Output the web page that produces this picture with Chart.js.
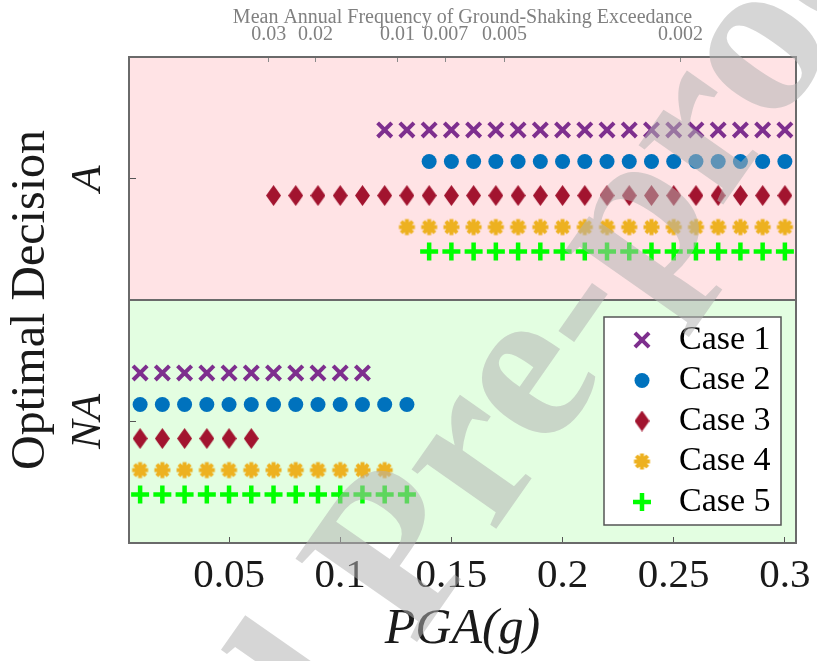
<!DOCTYPE html>
<html>
<head>
<meta charset="utf-8">
<script src="https://cdn.jsdelivr.net/npm/chart.js@4.4.1/dist/chart.umd.min.js"></script>
<style>
  html, body { margin: 0; padding: 0; background: #fff; }
</style>
</head>
<body>
<canvas id="decisionChart" width="817" height="661"></canvas>
<script>
// PGA levels (g) where the optimal decision was evaluated
const pga = [0.01, 0.02, 0.03, 0.04, 0.05, 0.06, 0.07, 0.08, 0.09, 0.10,
             0.11, 0.12, 0.13, 0.14, 0.15, 0.16, 0.17, 0.18, 0.19, 0.20,
             0.21, 0.22, 0.23, 0.24, 0.25, 0.26, 0.27, 0.28, 0.29, 0.30];

// Optimal decision for each case at each PGA level (0 = NA, 1 = A)
const case1 = [0,0,0,0,0,0,0,0,0,0, 0,1,1,1,1,1,1,1,1,1, 1,1,1,1,1,1,1,1,1,1];
const case2 = [0,0,0,0,0,0,0,0,0,0, 0,0,0,1,1,1,1,1,1,1, 1,1,1,1,1,1,1,1,1,1];
const case3 = [0,0,0,0,0,0,1,1,1,1, 1,1,1,1,1,1,1,1,1,1, 1,1,1,1,1,1,1,1,1,1];
const case4 = [0,0,0,0,0,0,0,0,0,0, 0,0,1,1,1,1,1,1,1,1, 1,1,1,1,1,1,1,1,1,1];
const case5 = [0,0,0,0,0,0,0,0,0,0, 0,0,0,1,1,1,1,1,1,1, 1,1,1,1,1,1,1,1,1,1];

const caseNames = ["Case 1", "Case 2", "Case 3", "Case 4", "Case 5"];
const decisionLabels = ["NA", "A"];

// bottom axis ticks
const pgaTicks = [0.05, 0.1, 0.15, 0.2, 0.25, 0.3];
const pgaTickLabels = ["0.05", "0.1", "0.15", "0.2", "0.25", "0.3"];

// top axis: mean annual frequency of exceedance, at the matching PGA
const mafTickPGA = [0.0679, 0.0889, 0.1258, 0.1475, 0.1739, 0.2531];
const mafTickLabels = ["0.03", "0.02", "0.01", "0.007", "0.005", "0.002"];

// marker images for the shapes Chart.js lacks
function diamondMarker(color) {
    const c = document.createElement("canvas");
    c.width = 15; c.height = 21;
    const g = c.getContext("2d");
    g.fillStyle = color;
    g.beginPath();
    g.moveTo(7.5, 0); g.lineTo(15, 10.5); g.lineTo(7.5, 21); g.lineTo(0, 10.5);
    g.closePath();
    g.fill();
    return c;
}

function asteriskMarker(color) {
    const c = document.createElement("canvas");
    c.width = 19; c.height = 19;
    const g = c.getContext("2d");
    g.strokeStyle = color; g.fillStyle = color;
    g.lineWidth = 4;
    for (let k = 0; k < 4; k++) {
        const a = k * Math.PI / 4;
        g.beginPath();
        g.moveTo(9.5 - 8 * Math.cos(a), 9.5 - 8 * Math.sin(a));
        g.lineTo(9.5 + 8 * Math.cos(a), 9.5 + 8 * Math.sin(a));
        g.stroke();
    }
    g.beginPath();
    g.arc(9.5, 9.5, 5.5, 0, Math.PI * 2);
    g.fill();
    return c;
}

const caseDecisions = [case1, case2, case3, case4, case5];
const rowShift = [0.2, 0.07, -0.07, -0.2, -0.3];
const caseStyles = [
    { pointStyle: "crossRot", radius: 10, borderWidth: 4, color: "#7E2F8E" },
    { pointStyle: "circle", radius: 7.5, borderWidth: 0, color: "#0072BD" },
    { pointStyle: diamondMarker("#A2142F"), radius: 8, borderWidth: 0, color: "#A2142F" },
    { pointStyle: asteriskMarker("#EDB120"), radius: 9, borderWidth: 0, color: "#EDB120" },
    { pointStyle: "cross", radius: 9, borderWidth: 4.5, color: "#00FF00" }
];

const datasets = caseDecisions.map((dec, k) => ({
    label: caseNames[k],
    data: pga.map((x, i) => ({ x: x, y: dec[i] + 0.5 + rowShift[k] })),
    showLine: false,
    pointStyle: caseStyles[k].pointStyle,
    pointRadius: caseStyles[k].radius,
    pointBorderWidth: caseStyles[k].borderWidth,
    pointBackgroundColor: caseStyles[k].color,
    pointBorderColor: caseStyles[k].color
}));

const serif = "'Liberation Serif', 'Times New Roman', serif";

// pink / green decision regions, divider and frame
const regions = {
    id: "regions",
    beforeDraw(chart) {
        const { ctx, chartArea: a, scales } = chart;
        const yMid = scales.y.getPixelForValue(1);
        ctx.save();
        ctx.fillStyle = "#FFE3E5";
        ctx.fillRect(a.left, a.top, a.right - a.left, yMid - a.top);
        ctx.fillStyle = "#E3FEE1";
        ctx.fillRect(a.left, yMid, a.right - a.left, a.bottom - yMid);
        ctx.restore();
    },
    afterDatasetsDraw(chart) {
        const { ctx, chartArea: a, scales } = chart;
        const yMid = scales.y.getPixelForValue(1);
        ctx.save();
        ctx.strokeStyle = "#6a6a6a";
        ctx.lineWidth = 2;
        ctx.beginPath();
        ctx.moveTo(a.left, yMid); ctx.lineTo(a.right, yMid);
        ctx.stroke();
        ctx.strokeRect(a.left, a.top, a.right - a.left, a.bottom - a.top);
        ctx.restore();
    }
};

// boxed legend inside the lower region
const caseLegend = {
    id: "caseLegend",
    afterDatasetsDraw(chart) {
        const { ctx, chartArea: a } = chart;
        const x0 = a.right - 192, y0 = a.top + 260, w = 177, h = 208;
        ctx.save();
        ctx.fillStyle = "#fff";
        ctx.fillRect(x0, y0, w, h);
        ctx.strokeStyle = "#555";
        ctx.lineWidth = 1.5;
        ctx.strokeRect(x0, y0, w, h);
        chart.data.datasets.forEach((ds, k) => {
            const cy = y0 + 23 + k * 40.5;
            ctx.fillStyle = ds.pointBackgroundColor;
            ctx.strokeStyle = ds.pointBorderColor;
            ctx.lineWidth = ds.pointBorderWidth;
            Chart.helpers.drawPoint(ctx, {
                pointStyle: ds.pointStyle, radius: ds.pointRadius,
                borderWidth: ds.pointBorderWidth, rotation: 0
            }, x0 + 38, cy);
            ctx.fillStyle = "#000";
            ctx.font = "34px " + serif;
            ctx.textBaseline = "middle";
            ctx.textAlign = "left";
            ctx.fillText(ds.label, x0 + 75, cy);
        });
        ctx.restore();
    }
};

// diagonal "Journal Pre-proof" stamp over the figure
const stamp = {
    id: "stamp",
    afterDraw(chart) {
        const ctx = chart.ctx;
        const size = 225;
        const ang = -55 * Math.PI / 180;
        ctx.save();
        ctx.font = "bold " + size + "px " + serif;
        const along = ctx.measureText("Journal Pre-pr").width + ctx.measureText("o").width / 2;
        const up = 0.23 * size;
        const cx = 767, cy = 52;
        const ox = cx - along * Math.cos(ang) - up * Math.sin(ang);
        const oy = cy - along * Math.sin(ang) + up * Math.cos(ang);
        ctx.translate(ox, oy);
        ctx.rotate(ang);
        ctx.fillStyle = "rgba(178,178,178,0.53)";
        ctx.textBaseline = "alphabetic";
        ctx.fillText("Journal Pre-proof", 0, 0);
        ctx.restore();
    }
};

new Chart(document.getElementById("decisionChart"), {
    type: "scatter",
    data: { datasets: datasets },
    options: {
        responsive: false,
        animation: false,
        layout: { padding: { left: 0, right: 21, top: 0, bottom: 0 } },
        plugins: { legend: { display: false }, tooltip: { enabled: false } },
        scales: {
            x: {
                type: "linear", position: "bottom", min: 0.005, max: 0.305,
                afterBuildTicks: axis => { axis.ticks = pgaTicks.map(v => ({ value: v })); },
                afterFit: axis => { axis.height = 118; axis.paddingLeft = 0; axis.paddingRight = 0; },
                ticks: {
                    autoSkip: false, maxRotation: 0, minRotation: 0, padding: 15,
                    color: "#1a1a1a", font: { family: serif, size: 41 },
                    callback: (v, i) => pgaTickLabels[i]
                },
                grid: { drawOnChartArea: false, drawTicks: true, tickLength: -6, color: "#555" },
                border: { display: false },
                title: {
                    display: true, text: "PGA(g)", color: "#1a1a1a",
                    font: { family: serif, size: 50, style: "italic" },
                    padding: { top: 0, bottom: 1 }
                }
            },
            x2: {
                type: "linear", position: "top", min: 0.005, max: 0.305,
                afterBuildTicks: axis => { axis.ticks = mafTickPGA.map(v => ({ value: v })); },
                afterFit: axis => { axis.height = 57; axis.paddingLeft = 0; axis.paddingRight = 0; },
                ticks: {
                    autoSkip: false, maxRotation: 0, minRotation: 0, padding: 15.5,
                    color: "#808080", font: { family: serif, size: 20 },
                    callback: (v, i) => mafTickLabels[i]
                },
                grid: { drawOnChartArea: false, drawTicks: true, tickLength: -5, color: "#8a8a8a" },
                border: { display: false },
                title: {
                    display: true, text: "Mean Annual Frequency of Ground-Shaking Exceedance",
                    color: "#808080", font: { family: serif, size: 20 },
                    padding: { top: 6, bottom: 0 }
                }
            },
            y: {
                type: "linear", position: "left", min: 0, max: 2,
                afterBuildTicks: axis => { axis.ticks = [0.5, 1.5].map(v => ({ value: v })); },
                afterFit: axis => { axis.width = 129; axis.paddingTop = 0; axis.paddingBottom = 0; },
                ticks: {
                    minRotation: 90, maxRotation: 90, crossAlign: "center", padding: 20,
                    color: "#1a1a1a", font: { family: serif, size: 43, style: "italic" },
                    callback: v => decisionLabels[Math.floor(v)]
                },
                grid: { drawOnChartArea: false, drawTicks: true, tickLength: -7, color: "#555" },
                border: { display: false },
                title: {
                    display: true, text: "Optimal Decision", color: "#1a1a1a",
                    font: { family: serif, size: 48 },
                    padding: { top: 3, bottom: 0 }
                }
            }
        }
    },
    plugins: [regions, caseLegend, stamp]
});
</script>
</body>
</html>
